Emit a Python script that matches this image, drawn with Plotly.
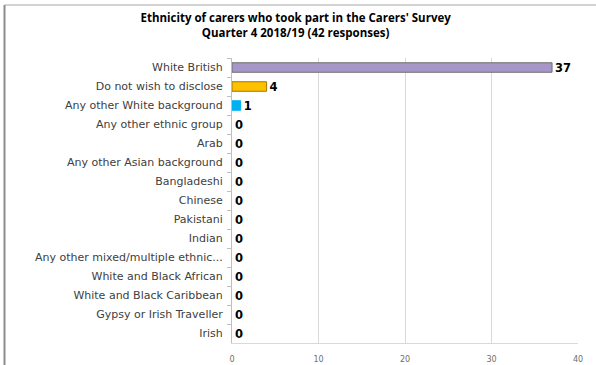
import plotly.graph_objects as go

categories = [
    "White British",
    "Do not wish to disclose",
    "Any other White background",
    "Any other ethnic group",
    "Arab",
    "Any other Asian background",
    "Bangladeshi",
    "Chinese",
    "Pakistani",
    "Indian",
    "Any other mixed/multiple ethnic...",
    "White and Black African",
    "White and Black Caribbean",
    "Gypsy or Irish Traveller",
    "Irish",
]
values = [37, 4, 1, 0, 0, 0, 0, 0, 0, 0, 0, 0, 0, 0, 0]
bar_colors = ["#A796C8", "#FFC000", "#00B0F0"] + ["#A796C8"] * 12
line_colors = ["#6E6E6E", "#9C7A00", "#00B0F0"] + ["#6E6E6E"] * 12
x_ticks = [0, 10, 20, 30, 40]

fig = go.Figure(
    go.Bar(
        y=categories,
        x=values,
        orientation="h",
        width=0.5,
        marker=dict(
            color=bar_colors,
            line=dict(color=line_colors, width=[1 if v > 0 else 0 for v in values]),
        ),
        text=[str(v) for v in values],
        textposition="outside",
        constraintext="none",
        textfont=dict(family="DejaVu Sans", size=11.5, color="#000000", weight="bold"),
        cliponaxis=False,
    )
)

L, R, T, B = 232, 18, 58, 22
W, H = 596, 365
pw, ph = W - L - R, H - T - B
px = lambda x: (x - L) / pw
py = lambda y: (H - B - y) / ph

fig.update_layout(
    width=W,
    height=H,
    margin=dict(l=L, r=R, t=T, b=B, pad=0, autoexpand=False),
    paper_bgcolor="white",
    plot_bgcolor="white",
    showlegend=False,
    font=dict(family="DejaVu Sans", color="#404040"),
    title=dict(
        text="Ethnicity of carers who took part in the Carers' Survey<br>Quarter 4 2018/19 (42 responses)",
        x=0.496,
        xanchor="center",
        y=1 - 22 / H,
        yanchor="middle",
        font=dict(family="Open Sans", size=11.5, color="#000000", weight="bold"),
    ),
    xaxis=dict(
        range=[0, 40],
        tickvals=x_ticks,
        showgrid=True,
        gridcolor="#D9D9D9",
        gridwidth=1,
        zeroline=False,
        showline=True,
        linecolor="#D9D9D9",
        ticks="",
        ticklabelstandoff=8,
        tickfont=dict(family="DejaVu Sans", size=8, color="#6E6E6E"),
        fixedrange=True,
        automargin=False,
    ),
    yaxis=dict(
        categoryorder="array",
        categoryarray=categories,
        autorange="reversed",
        showline=True,
        linecolor="#BFBFBF",
        ticks="outside",
        tickson="boundaries",
        ticklen=4,
        tickcolor="#BFBFBF",
        tickfont=dict(family="DejaVu Sans", size=11, color="#404040"),
        ticklabelstandoff=6,
        showgrid=False,
        automargin=False,
    ),
    shapes=[
        dict(type="line", xref="paper", yref="paper", x0=px(4.5), x1=px(4.5), y0=py(5), y1=py(370),
             line=dict(color="#8C8C8C", width=2)),
        dict(type="line", xref="paper", yref="paper", x0=px(4.5), x1=px(600), y0=py(5), y1=py(5),
             line=dict(color="#A6A6A6", width=1)),
    ],
)

fig.write_html("out.html")
